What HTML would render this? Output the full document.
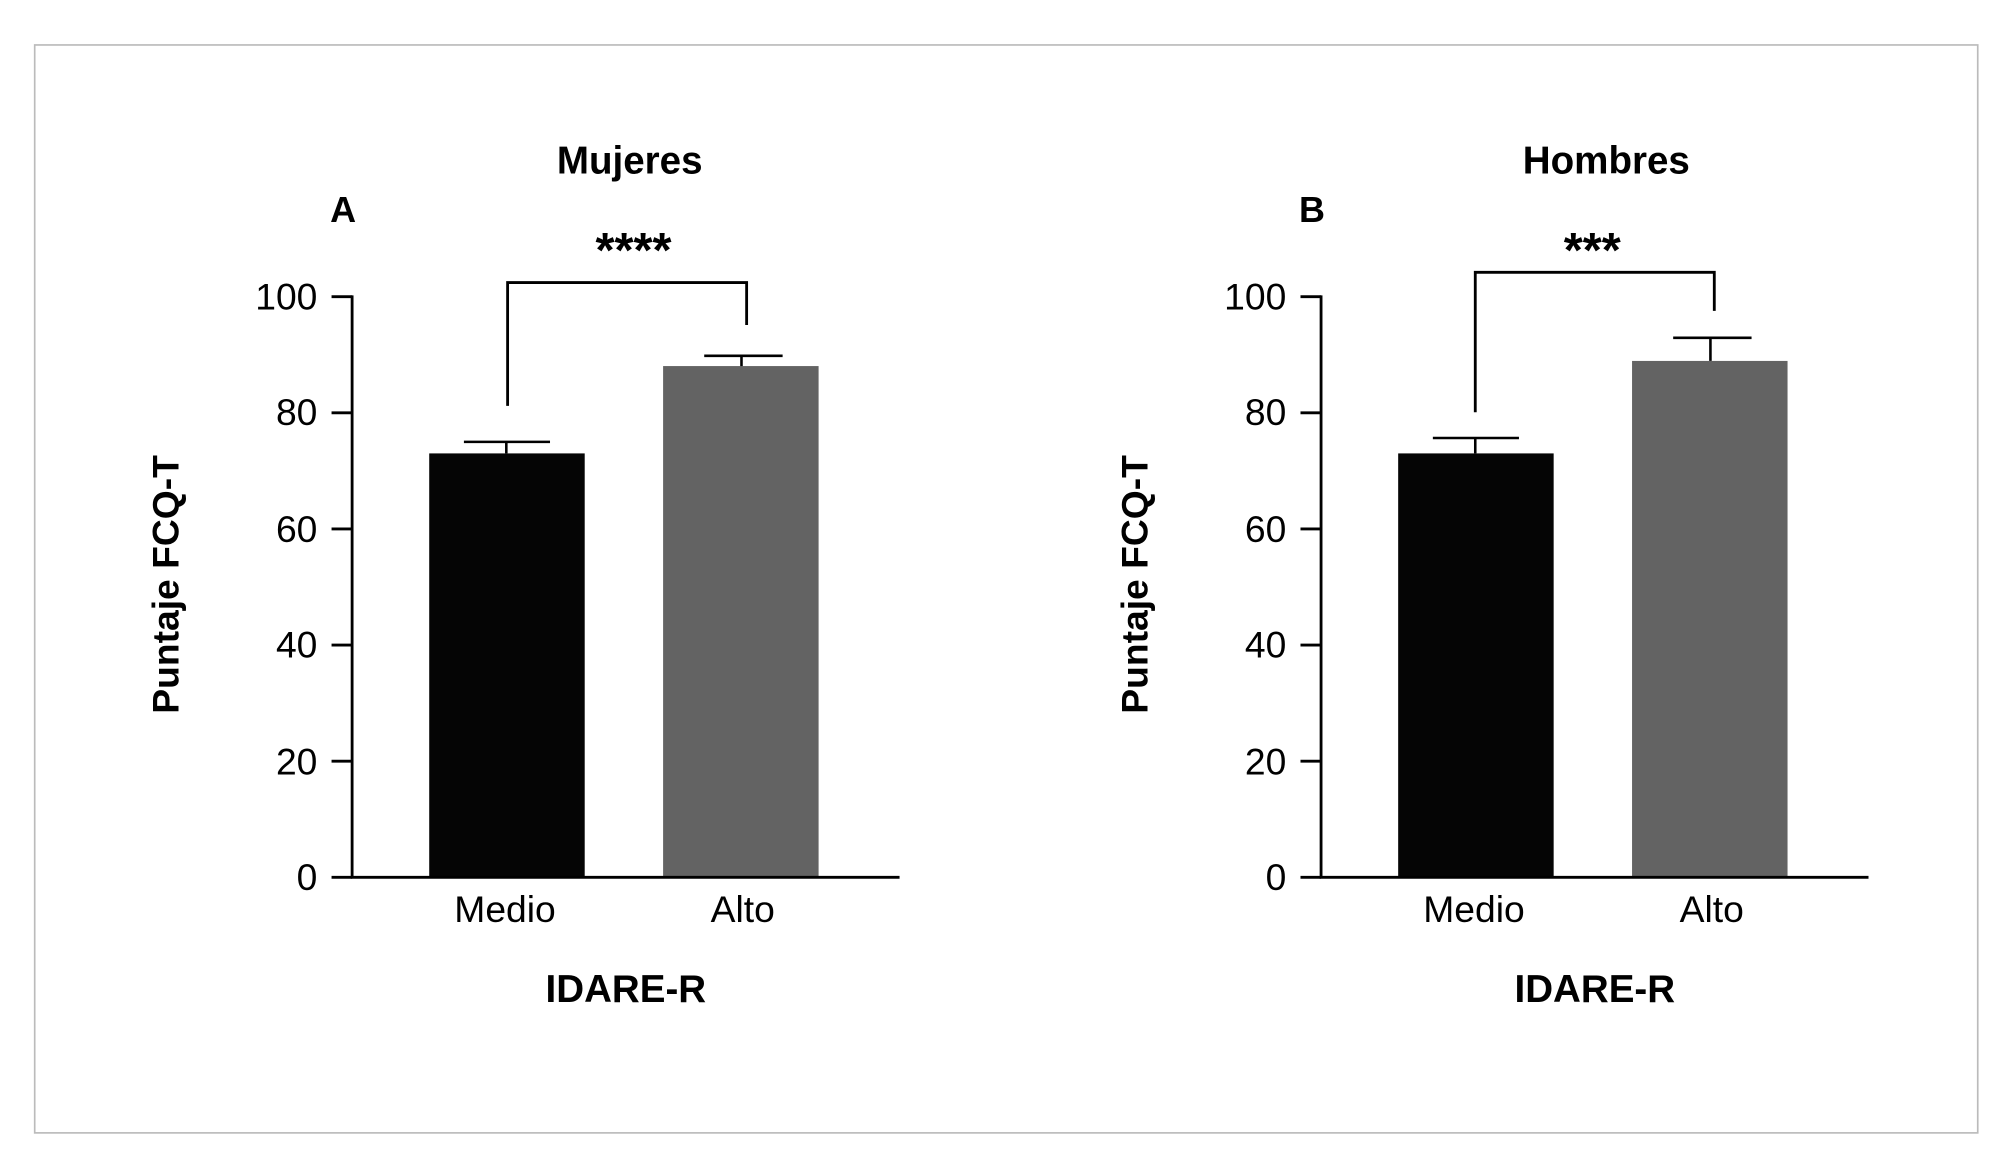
<!DOCTYPE html>
<html><head><meta charset="utf-8"><style>
html,body{margin:0;padding:0;background:#fff;}
svg{display:block;}
text{font-family:"Liberation Sans",sans-serif;fill:#000;}
</style></head><body>
<svg width="2015" height="1156" viewBox="0 0 1568 900" preserveAspectRatio="none" xmlns="http://www.w3.org/2000/svg">
<rect x="27" y="35" width="1512" height="847" fill="#fff" stroke="#bbb" stroke-width="1.3"/>
<g id="A">
<text x="490" y="135" font-size="30" font-weight="bold" text-anchor="middle">Mujeres</text>
<text x="267" y="173" font-size="28" font-weight="bold" text-anchor="middle">A</text>
<text x="493" y="208" font-size="38" font-weight="bold" text-anchor="middle">****</text>
<path d="M395 316V220H581V253" fill="none" stroke="#000" stroke-width="2.2"/>
<rect x="334" y="353" width="121" height="330" fill="#050505"/>
<rect x="516" y="285" width="121" height="398" fill="#636363"/>
<path d="M394 353V344M361 344H428M577 285V277M548 277H609" stroke="#000" stroke-width="2"/>
<path d="M274 230V683H700" fill="none" stroke="#000" stroke-width="2.2"/>
<path d="M258 231H274M258 321.4H274M258 411.8H274M258 502.2H274M258 592.6H274M258 683H274" stroke="#000" stroke-width="2.2"/>
<g font-size="29" text-anchor="end">
<text x="247" y="241">100</text><text x="247" y="331">80</text><text x="247" y="422">60</text>
<text x="247" y="512">40</text><text x="247" y="603">20</text><text x="247" y="693">0</text>
</g>
<text x="393" y="718" font-size="29" text-anchor="middle">Medio</text>
<text x="578" y="718" font-size="29" text-anchor="middle">Alto</text>
<text x="487" y="780" font-size="30" font-weight="bold" text-anchor="middle">IDARE-R</text>
<text transform="translate(139,455) rotate(-90)" font-size="29" font-weight="bold" text-anchor="middle">Puntaje FCQ-T</text>
</g>
<g id="B">
<text x="1250" y="135" font-size="30" font-weight="bold" text-anchor="middle">Hombres</text>
<text x="1021" y="173" font-size="28" font-weight="bold" text-anchor="middle">B</text>
<text x="1239" y="208" font-size="38" font-weight="bold" text-anchor="middle">***</text>
<path d="M1148 321V212H1334V242" fill="none" stroke="#000" stroke-width="2.2"/>
<rect x="1088" y="353" width="121" height="330" fill="#050505"/>
<rect x="1270" y="281" width="121" height="402" fill="#636363"/>
<path d="M1148 353V341M1115 341H1182M1331 281V263M1302 263H1363" stroke="#000" stroke-width="2"/>
<path d="M1028 230V683H1454" fill="none" stroke="#000" stroke-width="2.2"/>
<path d="M1012 231H1028M1012 321.4H1028M1012 411.8H1028M1012 502.2H1028M1012 592.6H1028M1012 683H1028" stroke="#000" stroke-width="2.2"/>
<g font-size="29" text-anchor="end">
<text x="1001" y="241">100</text><text x="1001" y="331">80</text><text x="1001" y="422">60</text>
<text x="1001" y="512">40</text><text x="1001" y="603">20</text><text x="1001" y="693">0</text>
</g>
<text x="1147" y="718" font-size="29" text-anchor="middle">Medio</text>
<text x="1332" y="718" font-size="29" text-anchor="middle">Alto</text>
<text x="1241" y="780" font-size="30" font-weight="bold" text-anchor="middle">IDARE-R</text>
<text transform="translate(893,455) rotate(-90)" font-size="29" font-weight="bold" text-anchor="middle">Puntaje FCQ-T</text>
</g>
</svg>
</body></html>
